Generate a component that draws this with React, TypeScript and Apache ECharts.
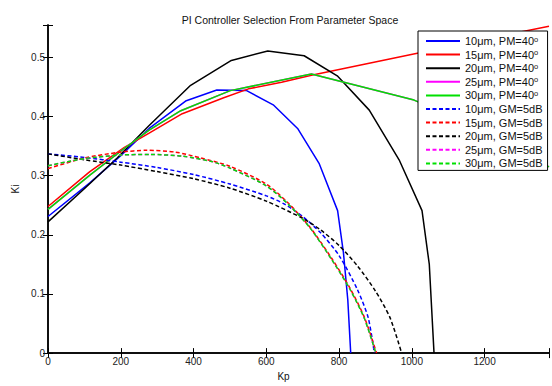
import React, { useEffect, useRef } from "react";
import * as echarts from "echarts";

// Kp, Ki pairs
const pm10: number[][] = [[0,0.231],[115,0.288],[200,0.334],[278,0.38],[380,0.427],[464,0.445],[546,0.444],[619,0.42],[686,0.38],[745,0.321],[796,0.241],[812,0.17],[824,0.09],[832,0]];
const pm15: number[][] = [[0,0.248],[115,0.307],[210,0.348],[278,0.372],[369,0.405],[483,0.432],[551,0.447],[642,0.458],[724,0.47],[1005,0.506],[1377,0.553]];
const pm20: number[][] = [[0,0.222],[105,0.281],[190,0.33],[278,0.385],[392,0.453],[504,0.495],[604,0.511],[704,0.503],[795,0.469],[883,0.411],[965,0.327],[1028,0.241],[1048,0.15],[1061,0]];
const pm25: number[][] = [[0,0.243],[115,0.301],[205,0.344],[278,0.377],[365,0.41],[501,0.444],[724,0.472],[1006,0.428],[1190,0.38],[1377,0.315]];
const pm30: number[][] = [[0,0.243],[115,0.301],[205,0.344],[278,0.377],[365,0.41],[501,0.444],[724,0.472],[1006,0.428],[1190,0.38],[1377,0.315]];

const gm10: number[][] = [[0,0.337],[100,0.331],[200,0.323],[300,0.314],[400,0.302],[500,0.286],[600,0.266],[650,0.252],[700,0.231],[750,0.203],[800,0.165],[850,0.108],[880,0.06],[897,0]];
const gm15: number[][] = [[0,0.312],[100,0.33],[200,0.34],[270,0.343],[350,0.34],[420,0.33],[500,0.316],[600,0.286],[660,0.254],[720,0.213],[780,0.16],[830,0.11],[870,0.06],[903,0]];
const gm20: number[][] = [[0,0.337],[100,0.327],[200,0.318],[300,0.307],[400,0.295],[500,0.279],[600,0.257],[700,0.228],[750,0.208],[800,0.182],[850,0.148],[900,0.105],[940,0.06],[972,0]];
const gm25: number[][] = [[0,0.317],[100,0.329],[200,0.335],[280,0.336],[370,0.333],[450,0.324],[500,0.313],[600,0.283],[660,0.252],[720,0.212],[780,0.158],[830,0.108],[870,0.058],[901,0]];
const gm30: number[][] = [[0,0.317],[100,0.329],[200,0.335],[280,0.336],[370,0.333],[450,0.324],[500,0.313],[600,0.283],[660,0.252],[720,0.212],[780,0.158],[830,0.108],[870,0.058],[901,0]];

const pmNames = ["10μm, PM=40", "15μm, PM=40", "20μm, PM=40", "25μm, PM=40", "30μm, PM=40"];
const gmNames = ["10μm, GM=5dB", "15μm, GM=5dB", "20μm, GM=5dB", "25μm, GM=5dB", "30μm, GM=5dB"];
const colors = ["#0000ff", "#ff0000", "#000000", "#ff00ff", "#00e000"];
const pmData = [pm10, pm15, pm20, pm25, pm30];
const gmData = [gm10, gm15, gm20, gm25, gm30];

const xMin = 0;
const xMax = 1377;
const xStep = 200;
const yMin = 0;
const yMax = 0.555;
const yStep = 0.1;

const FONT = "'Liberation Sans', Arial, Helvetica, sans-serif";

export default function App() {
  const ref = useRef<HTMLDivElement>(null);
  useEffect(() => {
    if (!ref.current) return;
    const chart = echarts.init(ref.current, undefined, { renderer: "svg" });
    const series: any[] = [];
    pmData.forEach((d, i) => {
      series.push({
        name: pmNames[i], type: "line", data: d, symbol: "none", showSymbol: false,
        xAxisIndex: 0, yAxisIndex: 0,
        lineStyle: { color: colors[i], width: 1.5, type: "solid" },
        itemStyle: { color: colors[i] },
      });
    });
    gmData.forEach((d, i) => {
      series.push({
        name: gmNames[i], type: "line", data: d, symbol: "none", showSymbol: false,
        smooth: 0.25,
        xAxisIndex: 0, yAxisIndex: 0,
        lineStyle: { color: colors[i], width: 1.5, type: [4, 2.5] },
        itemStyle: { color: colors[i] },
      });
    });
    const xLabel = (v: number) => (Math.abs(v / xStep - Math.round(v / xStep)) < 1e-6 ? String(v) : "");
    const yLabel = (v: number) => {
      if (Math.abs(v / yStep - Math.round(v / yStep)) > 1e-6) return "";
      return v === 0 ? "0" : v.toFixed(1);
    };
    const axisLine = { show: true, lineStyle: { color: "#000", width: 1.5 } };
    const axisTick = { show: true, inside: true, length: 5, lineStyle: { color: "#000", width: 1 } };
    chart.setOption({
      animation: false,
      backgroundColor: "#fff",
      textStyle: { fontFamily: FONT },
      title: {
        text: "PI Controller Selection From Parameter Space",
        left: 285, top: 9, textAlign: "center",
        textStyle: { fontSize: 10.5, fontWeight: "normal", color: "#111", fontFamily: FONT },
      },
      grid: { left: 48, top: 25, right: -1, bottom: 28, containLabel: false },
      legend: {
        orient: "vertical", left: 418, top: 31,
        data: [...pmNames, ...gmNames],
        itemWidth: 34, itemHeight: 12, itemGap: 1.6,
        padding: [4, 5, 1, 7],
        backgroundColor: "#fff", borderColor: "#000", borderWidth: 1, borderRadius: 0,
        selectedMode: false,
        itemStyle: { opacity: 0 },
        formatter: (name: string) => (name.indexOf("PM") >= 0 ? name + "{sup|o}" : name),
        textStyle: {
          fontSize: 11, color: "#111", fontFamily: FONT, lineHeight: 12,
          rich: { sup: { fontSize: 7.5, verticalAlign: "top", lineHeight: 7, color: "#111", fontFamily: FONT } },
        },
      },
      xAxis: [
        {
          type: "value", min: xMin, max: xMax, interval: xStep, position: "bottom",
          name: "Kp", nameLocation: "middle", nameGap: 13,
          nameTextStyle: { fontSize: 10, color: "#111", padding: [0, 30, 0, 0], fontFamily: FONT },
          axisLine, axisTick, splitLine: { show: false },
          axisLabel: { formatter: xLabel, fontSize: 10, color: "#222", margin: 3, fontFamily: FONT },
        },
        {
          type: "value", min: xMin, max: xMax, interval: xStep, position: "top",
          axisLine, axisTick, splitLine: { show: false }, axisLabel: { show: false },
        },
      ],
      yAxis: [
        {
          type: "value", min: yMin, max: yMax, interval: yStep, position: "left",
          name: "Ki", nameLocation: "middle", nameGap: 28,
          nameTextStyle: { fontSize: 10, color: "#111", fontFamily: FONT },
          axisLine, axisTick, splitLine: { show: false },
          axisLabel: { formatter: yLabel, fontSize: 10, color: "#222", margin: 3, fontFamily: FONT },
        },
        {
          type: "value", min: yMin, max: yMax, interval: yStep, position: "right",
          axisLine, axisTick, splitLine: { show: false }, axisLabel: { show: false },
        },
      ],
      series,
    });
    return () => chart.dispose();
  }, []);
  return <div ref={ref} style={{ width: 552, height: 386, position: "absolute", left: 0, top: 0 }} />;
}
